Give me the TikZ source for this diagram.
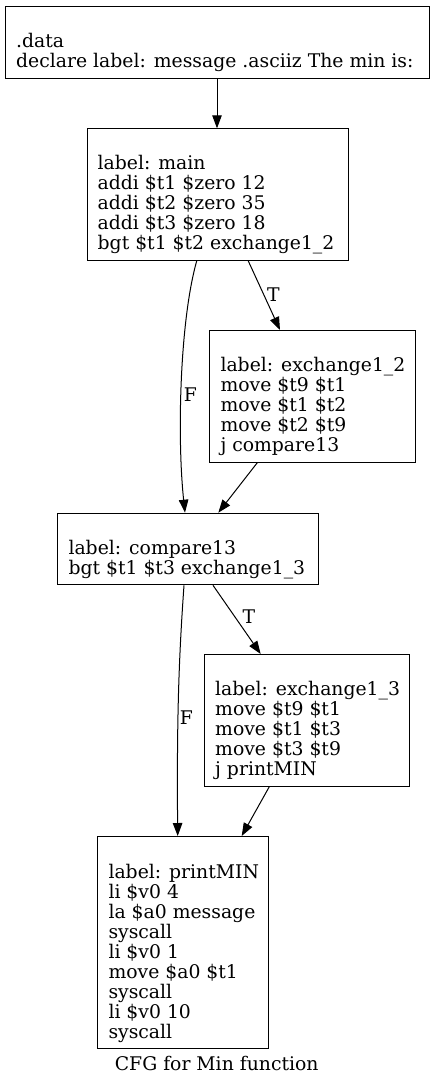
\documentclass[tikz,border=0pt]{standalone}
\usepackage{fontspec}
\setmainfont{DejaVu Serif}
\usetikzlibrary{arrows.meta,calc}
\begin{document}
\begin{tikzpicture}[x=1pt,y=1pt,
  box/.style={draw=black,line width=1pt,rectangle,inner sep=0pt,anchor=north west},
  txt/.style={anchor=base west,align=left,inner sep=0pt,font=\fontsize{18.8}{20}\selectfont},
  lbl/.style={inner sep=0pt,font=\fontsize{18.8}{20}\selectfont},
  edge/.style={line width=1pt,-{Triangle[length=13pt,width=9.5pt]}}]
\useasboundingbox (0,0) rectangle (435,-1085);
\fill[white] (0,0) rectangle (435,-1085);
% boxes
\node[box,minimum width=424pt,minimum height=71.7pt] (data) at (5,-6) {};
\node[box,minimum width=261.3pt,minimum height=131.7pt] (main) at (87,-128.3) {};
\node[box,minimum width=205.7pt,minimum height=131.7pt] (ex12) at (209.3,-330) {};
\node[box,minimum width=261pt,minimum height=71.6pt] (cmp) at (57.3,-512.7) {};
\node[box,minimum width=205pt,minimum height=131.7pt] (ex13) at (204,-654) {};
\node[box,minimum width=171pt,minimum height=212.3pt] (prt) at (97.3,-836) {};
% texts (node base = baseline of last line; first line 41.5 below box top)
\node[txt] (tdata) at ($(data.north west)+(11,-61.5)$) {.data\\declare label: message .asciiz The min is:};
\node[txt] (tmain) at ($(main.north west)+(10.5,-121.5)$) {label: main\\addi \$t1 \$zero 12\\addi \$t2 \$zero 35\\addi \$t3 \$zero 18\\bgt \$t1 \$t2 exchange1\_2};
\node[txt] (tex12) at ($(ex12.north west)+(11,-121.5)$) {label: exchange1\_2\\move \$t9 \$t1\\move \$t1 \$t2\\move \$t2 \$t9\\j compare13};
\node[txt] (tcmp) at ($(cmp.north west)+(11,-61.5)$) {label: compare13\\bgt \$t1 \$t3 exchange1\_3};
\node[txt] (tex13) at ($(ex13.north west)+(11,-121.5)$) {label: exchange1\_3\\move \$t9 \$t1\\move \$t1 \$t3\\move \$t3 \$t9\\j printMIN};
\node[txt] (tprt) at ($(prt.north west)+(11,-202)$) {label: printMIN\\li \$v0 4\\la \$a0 message\\syscall\\li \$v0 1\\move \$a0 \$t1\\syscall\\li \$v0 10\\syscall};
\node[lbl,anchor=base] (cap) at (216.7,-1070) {CFG for Min function};
% edge labels
\node[lbl] (lf1) at (190.5,-395) {F};
\node[lbl] (lt1) at (273.3,-294.3) {T};
\node[lbl] (lf2) at (186.5,-718) {F};
\node[lbl] (lt2) at (249,-617) {T};
% edges
\draw[edge] ([xshift=212pt]data.south west) -- ([xshift=130pt]main.north west);
\draw[edge] ([xshift=109.7pt]main.south west) .. controls +(-17,-60) and +(-8,75) .. ([xshift=127.7pt]cmp.north west);
\draw[edge] ([xshift=161.3pt]main.south west) -- ([xshift=70.7pt]ex12.north west);
\draw[edge] ([xshift=48pt]ex12.south west) -- ([xshift=161pt]cmp.north west);
\draw[edge] ([xshift=126.7pt]cmp.south west) .. controls +(-5,-70) and +(-1,120) .. ([xshift=80.4pt]prt.north west);
\draw[edge] ([xshift=155.7pt]cmp.south west) -- ([xshift=56.7pt]ex13.north west);
\draw[edge] ([xshift=65.3pt]ex13.south west) -- ([xshift=144.4pt]prt.north west);
\end{tikzpicture}
\end{document}
